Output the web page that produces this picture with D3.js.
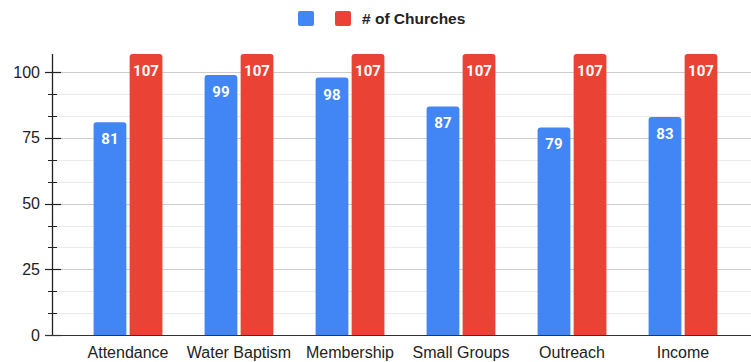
<!DOCTYPE html>
<html>
<head>
<meta charset="utf-8">
<script src="https://cdn.jsdelivr.net/npm/d3@7.9.0/dist/d3.min.js"></script>
<style>
  html, body { margin: 0; padding: 0; background: #fff; }
  svg { display: block; font-family: Arial, "Liberation Sans", sans-serif; }
</style>
</head>
<body>
<svg id="chart" width="751" height="362"></svg>
<script>
// ---------- Data ----------
const categories = ["Attendance", "Water Baptism", "Membership", "Small Groups", "Outreach", "Income"];
const seriesNames = ["", "# of Churches"];
const firstSeries = [81, 99, 98, 87, 79, 83];
const churches = [107, 107, 107, 107, 107, 107];
const majorTicks = [0, 25, 50, 75, 100];
const colors = ["#4285f4", "#ea4335"];

const width = 751;
const height = 362;

const svg = d3.select("#chart");

// ---------- Scales ----------
const x = d3.scaleBand()
  .domain(categories)
  .range([72.5, 738.5])
  .paddingInner(0.38)
  .paddingOuter(0.19);

const xInner = d3.scaleBand()
  .domain([0, 1])
  .range([0, x.bandwidth()])
  .paddingInner(0.09);

const y = d3.scaleLinear().domain([0, 100]).range([335, 72.3]);

const minorTicks = d3.range(0, 107, 25 / 3).filter((v) => Math.abs(v % 25) > 0.01 && Math.abs(v % 25 - 25) > 0.01);

// ---------- Gridlines ----------
svg.append("g")
  .selectAll("line")
  .data(minorTicks)
  .join("line")
  .attr("x1", 53).attr("x2", width)
  .attr("y1", (d) => Math.round(y(d)) + 0.5).attr("y2", (d) => Math.round(y(d)) + 0.5)
  .attr("stroke", "#ebebeb");

svg.append("g")
  .selectAll("line")
  .data(majorTicks.filter((d) => d > 0))
  .join("line")
  .attr("x1", 53).attr("x2", width)
  .attr("y1", (d) => Math.round(y(d)) + 0.5).attr("y2", (d) => Math.round(y(d)) + 0.5)
  .attr("stroke", "#cccccc");

// ---------- Bars ----------
function topRounded(x0, y0, w, h, r) {
  r = Math.min(r, h);
  return `M${x0},${y0 + h}V${y0 + r}Q${x0},${y0} ${x0 + r},${y0}H${x0 + w - r}Q${x0 + w},${y0} ${x0 + w},${y0 + r}V${y0 + h}Z`;
}

const rows = categories.map((c, i) => ({ cat: c, vals: [firstSeries[i], churches[i]] }));

const groups = svg.append("g")
  .selectAll("g")
  .data(rows)
  .join("g")
  .attr("transform", (d) => `translate(${x(d.cat)},0)`);

groups.selectAll("path")
  .data((d) => d.vals.map((v, k) => ({ v, k })))
  .join("path")
  .attr("d", (d) => topRounded(xInner(d.k), y(d.v), xInner.bandwidth(), y(0) - y(d.v), 3))
  .attr("fill", (d) => colors[d.k]);

groups.selectAll("text")
  .data((d) => d.vals.map((v, k) => ({ v, k })))
  .join("text")
  .attr("x", (d) => xInner(d.k) + xInner.bandwidth() / 2)
  .attr("y", (d) => y(d.v) + 22)
  .attr("text-anchor", "middle")
  .attr("fill", "#fff")
  .attr("font-family", "Roboto, Arial, sans-serif")
  .attr("font-weight", "bold")
  .attr("font-size", 15)
  .text((d) => d.v);

// ---------- Axes ----------
const axisG = svg.append("g");

axisG.append("line")
  .attr("x1", 52.5).attr("x2", 52.5)
  .attr("y1", y(107)).attr("y2", y(0))
  .attr("stroke", "#222").attr("stroke-width", 1.3);

axisG.selectAll(".minor")
  .data(minorTicks)
  .join("line")
  .attr("class", "minor")
  .attr("x1", 48).attr("x2", 57)
  .attr("y1", (d) => Math.round(y(d)) + 0.5).attr("y2", (d) => Math.round(y(d)) + 0.5)
  .attr("stroke", "#222");

axisG.selectAll(".major")
  .data(majorTicks)
  .join("line")
  .attr("class", "major")
  .attr("x1", 45).attr("x2", 61)
  .attr("y1", (d) => Math.round(y(d)) + 0.5).attr("y2", (d) => Math.round(y(d)) + 0.5)
  .attr("stroke", "#222").attr("stroke-width", 1.2);

axisG.selectAll("text")
  .data(majorTicks)
  .join("text")
  .attr("x", 40)
  .attr("y", (d) => y(d) + 5.5)
  .attr("text-anchor", "end")
  .attr("fill", "#222")
  .attr("font-size", 16)
  .text((d) => d);

// baseline
svg.append("line")
  .attr("x1", 45).attr("x2", width)
  .attr("y1", 335.5).attr("y2", 335.5)
  .attr("stroke", "#333").attr("stroke-width", 1.2);

svg.append("g")
  .selectAll("text")
  .data(categories)
  .join("text")
  .attr("x", (d) => x(d) + x.bandwidth() / 2)
  .attr("y", 357.5)
  .attr("text-anchor", "middle")
  .attr("fill", "#222")
  .attr("font-size", 16)
  .text((d) => d);

// ---------- Legend ----------
const legend = svg.append("g");
const legendX = [298, 335];
seriesNames.forEach((name, i) => {
  legend.append("rect")
    .attr("x", legendX[i]).attr("y", 11)
    .attr("width", 16).attr("height", 15)
    .attr("rx", 2)
    .attr("fill", colors[i]);
  if (name) {
    legend.append("text")
      .attr("x", legendX[i] + 27)
      .attr("y", 24)
      .attr("fill", "#222")
      .attr("font-weight", "bold")
      .attr("font-size", 15.5)
      .text(name);
  }
});
</script>
</body>
</html>
